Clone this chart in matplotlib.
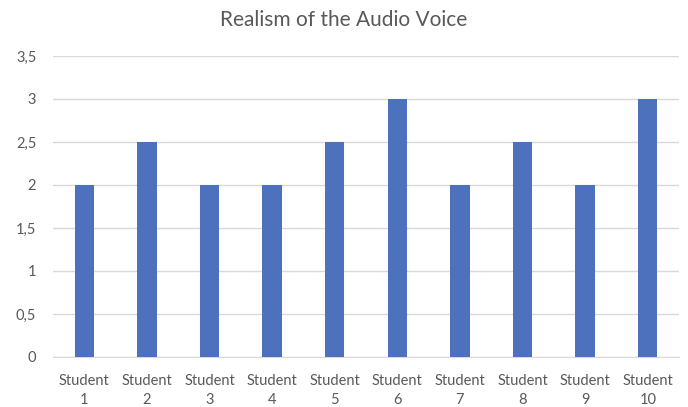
import matplotlib
matplotlib.use("Agg")
import matplotlib.pyplot as plt
from matplotlib.ticker import FuncFormatter, MultipleLocator

categories = ["Student\n1", "Student\n2", "Student\n3", "Student\n4", "Student\n5",
              "Student\n6", "Student\n7", "Student\n8", "Student\n9", "Student\n10"]
values = [2, 2.5, 2, 2, 2.5, 3, 2, 2.5, 2, 3]
title = "Realism of the Audio Voice"

plt.rcParams['font.family'] = ['Lato', 'DejaVu Sans']
text_color = "#595959"

fig = plt.figure(figsize=(6.88, 4.07), dpi=100)
ax = fig.add_axes([0.077, 0.1229, 0.910, 0.7395])

x = list(range(len(categories)))
ax.bar(x, values, width=0.31, color="#4E71BE", zorder=3)

ax.set_xlim(-0.5, len(categories) - 0.5)
ax.set_ylim(0, 3.5)
ax.yaxis.set_major_locator(MultipleLocator(0.5))
ax.yaxis.set_major_formatter(FuncFormatter(lambda v, p: ("%g" % v).replace(".", ",")))
ax.grid(axis="y", color="#D9D9D9", linewidth=1, zorder=0)
ax.set_xticks(x)
ax.set_xticklabels(categories, linespacing=1.4)

for s in ["top", "right", "left"]:
    ax.spines[s].set_visible(False)
ax.spines["bottom"].set_color("#D9D9D9")
ax.tick_params(axis="both", length=0, labelsize=10.5, colors=text_color)
ax.tick_params(axis="y", pad=12)
ax.tick_params(axis="x", pad=12.5)

fig.text(0.5, 0.95, title, ha="center", va="center", fontsize=15, color=text_color)

fig.savefig("out.png", dpi=100)
